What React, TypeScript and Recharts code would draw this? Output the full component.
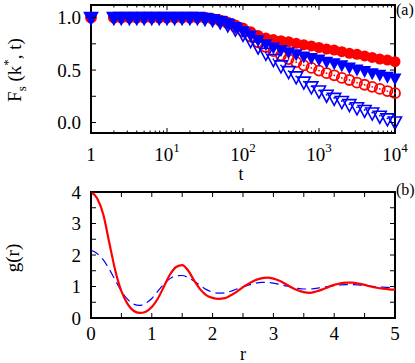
import React from 'react';
import {
  ScatterChart, Scatter, LineChart, Line, XAxis, YAxis, ReferenceArea,
} from 'recharts';

// ---- panel (a): F_s(k*, t) ----
const times = [
  1, 2, 2.5, 3.2, 4, 5, 6.3, 7.9, 10, 12.6, 15.8, 20, 25.1, 31.6, 39.8, 50.1, 63.1, 79.4,
  100, 126, 158, 200, 251, 316, 398, 501, 631, 794, 1000, 1259, 1585, 1995, 2512, 3162,
  3981, 5012, 6310, 7943, 10000,
];
const redFilled = [
  1, 1, 1, 1, 1, 1, 1, 1, 1, 1, 1, 1, 1, 0.995, 0.99, 0.975, 0.955, 0.93,
  0.9, 0.865, 0.83, 0.805, 0.79, 0.78, 0.77, 0.755, 0.74, 0.73, 0.715, 0.7, 0.69, 0.675, 0.66, 0.65,
  0.635, 0.62, 0.605, 0.595, 0.58,
];
const redOpen = [
  1, 1, 1, 1, 1, 1, 1, 1, 1, 1, 1, 1, 1, 1, 0.985, 0.97, 0.945, 0.91,
  0.87, 0.82, 0.765, 0.72, 0.68, 0.64, 0.605, 0.575, 0.545, 0.52, 0.495, 0.47, 0.45, 0.425, 0.405, 0.38,
  0.36, 0.34, 0.32, 0.3, 0.28,
];
const blueFilled = [
  1, 1, 1, 1, 1, 1, 1, 1, 1, 1, 1, 1, 1, 0.995, 0.985, 0.97, 0.945, 0.91,
  0.87, 0.83, 0.785, 0.745, 0.715, 0.69, 0.67, 0.65, 0.63, 0.615, 0.6, 0.58, 0.565, 0.545, 0.525, 0.505,
  0.49, 0.47, 0.455, 0.435, 0.42,
];
const blueOpen = [
  1, 1, 1, 1, 1, 1, 1, 1, 1, 1, 1, 1, 1, 0.99, 0.98, 0.96, 0.93, 0.89,
  0.84, 0.78, 0.72, 0.66, 0.6, 0.54, 0.485, 0.435, 0.385, 0.34, 0.3, 0.26, 0.23, 0.2, 0.17, 0.14,
  0.115, 0.09, 0.06, 0.035, 0.005,
];

// ---- panel (b): g(r) ----
const rValues = [
  0, 0.1, 0.2, 0.3, 0.4, 0.5, 0.6, 0.7, 0.8, 0.9, 1, 1.1, 1.2, 1.3, 1.4, 1.5, 1.6, 1.7, 1.8, 1.9,
  2, 2.1, 2.2, 2.3, 2.4, 2.5, 2.6, 2.7, 2.8, 2.9, 3, 3.1, 3.2, 3.3, 3.4, 3.5, 3.6, 3.7, 3.8, 3.9,
  4, 4.1, 4.2, 4.3, 4.4, 4.5, 4.6, 4.7, 4.8, 4.9, 5,
];
const gRed = [
  4.0, 3.8, 3.3, 2.4, 1.5, 0.85, 0.45, 0.23, 0.16, 0.2, 0.35, 0.62, 1.0, 1.38, 1.62, 1.68, 1.5, 1.18, 0.9, 0.72,
  0.64, 0.61, 0.63, 0.72, 0.84, 0.98, 1.1, 1.2, 1.26, 1.28, 1.25, 1.18, 1.08, 0.97, 0.88, 0.82, 0.8, 0.84, 0.9, 0.98,
  1.05, 1.1, 1.12, 1.12, 1.09, 1.05, 1.0, 0.96, 0.93, 0.91, 0.9,
];
const gBlue = [
  2.15, 2.05, 1.85, 1.55, 1.2, 0.85, 0.6, 0.44, 0.4, 0.47, 0.62, 0.85, 1.08, 1.25, 1.34, 1.35, 1.28, 1.17, 1.03, 0.9,
  0.82, 0.79, 0.8, 0.85, 0.92, 0.99, 1.05, 1.1, 1.13, 1.13, 1.11, 1.07, 1.02, 0.98, 0.94, 0.92, 0.92, 0.94, 0.97, 1.0,
  1.03, 1.05, 1.06, 1.06, 1.05, 1.03, 1.01, 0.99, 0.98, 0.97, 0.96,
];

const RED = '#ff0000';
const BLUE = '#0000ff';
const FONT = 'Liberation Serif, Times New Roman, serif';
const FS = 19;

const toPoints = (vals: number[]) => times.map((t, i) => ({ t, f: vals[i] }));

const logTicks: number[] = [];
for (let d = 1; d < 10000; d *= 10) for (let m = 1; m < 10; m++) logTicks.push(d * m);
logTicks.push(10000);

const gData = rValues.map((r, i) => ({ r, red: gRed[i], blue: gBlue[i] }));

// plot boxes
const A_W = 304, A_H = 128;
const B_W = 304, B_H = 126;

const FilledCircle = (p: any) => <circle cx={p.cx} cy={p.cy} r={5.5} fill={RED} />;
const OpenCircle = (p: any) => (
  <g>
    <circle cx={p.cx} cy={p.cy} r={5} fill="none" stroke={RED} strokeWidth={1.8} />
    <circle cx={p.cx} cy={p.cy} r={0.9} fill={RED} />
  </g>
);
const triPath = (cx: number, cy: number) =>
  `M${cx - 6.5},${cy - 5}L${cx + 6.5},${cy - 5}L${cx},${cy + 7}Z`;
const FilledTri = (p: any) => <path d={triPath(p.cx, p.cy)} fill={BLUE} />;
const OpenTri = (p: any) => (
  <g>
    <path d={triPath(p.cx, p.cy)} fill="none" stroke={BLUE} strokeWidth={1.6} strokeLinejoin="miter" />
    <circle cx={p.cx} cy={p.cy - 0.5} r={0.9} fill={BLUE} />
  </g>
);

const LogXTick = ({ x, y, payload }: any) => {
  const lg = Math.log10(payload.value);
  const k = Math.round(lg);
  const major = Math.abs(lg - k) < 1e-6;
  const len = major ? 5 : 2.5;
  return (
    <g>
      <line x1={x} y1={y} x2={x} y2={y - len} stroke="#000" />
      <line x1={x} y1={y - A_H} x2={x} y2={y - A_H + len} stroke="#000" />
      {major && (
        <text x={x} y={y + 28} textAnchor="middle" fontFamily={FONT} fontSize={FS} fill="#000">
          {k === 0 ? '1' : (
            <>
              10<tspan dy={-9} fontSize={13}>{k}</tspan>
            </>
          )}
        </text>
      )}
    </g>
  );
};

const FYTick = ({ x, y, payload }: any) => {
  const v = payload.value;
  const labeled = Math.abs(v * 2 - Math.round(v * 2)) < 1e-6;
  return (
    <g>
      <line x1={x} y1={y} x2={x + 5} y2={y} stroke="#000" />
      <line x1={x + A_W} y1={y} x2={x + A_W - 5} y2={y} stroke="#000" />
      {labeled && (
        <text x={x - 10} y={y} dy="0.35em" textAnchor="end" fontFamily={FONT} fontSize={FS} fill="#000">
          {v.toFixed(1)}
        </text>
      )}
    </g>
  );
};

const RXTick = ({ x, y, payload }: any) => {
  const v = payload.value;
  return (
    <g>
      <line x1={x} y1={y} x2={x} y2={y - 5} stroke="#000" />
      <line x1={x} y1={y - B_H} x2={x} y2={y - B_H + 5} stroke="#000" />
      {Number.isInteger(v) && (
        <text x={x} y={y + 22} textAnchor="middle" fontFamily={FONT} fontSize={FS} fill="#000">
          {v}
        </text>
      )}
    </g>
  );
};

const GYTick = ({ x, y, payload }: any) => {
  const v = payload.value;
  return (
    <g>
      <line x1={x} y1={y} x2={x + 5} y2={y} stroke="#000" />
      <line x1={x + B_W} y1={y} x2={x + B_W - 5} y2={y} stroke="#000" />
      {Number.isInteger(v) && (
        <text x={x - 10} y={y} dy="0.35em" textAnchor="end" fontFamily={FONT} fontSize={FS} fill="#000">
          {v}
        </text>
      )}
    </g>
  );
};

export default function App() {
  return (
    <div style={{ position: 'absolute', left: 0, top: 0, width: 415, height: 363, background: '#fff' }}>
      <div style={{ position: 'absolute', left: 0, top: 0 }}>
        <ScatterChart width={415} height={180} margin={{ top: 5, right: 20, bottom: 17, left: 31 }}>
          <XAxis
            type="number" dataKey="t" scale="log" domain={[1, 10000]} ticks={logTicks} interval={0}
            height={30} tickSize={0} tickMargin={0} axisLine={false} tick={<LogXTick />}
          />
          <YAxis
            type="number" dataKey="f" domain={[-0.1, 1.12]} ticks={[0, 0.25, 0.5, 0.75, 1]} interval={0}
            width={60} tickSize={0} tickMargin={0} axisLine={false} tick={<FYTick />}
          />
          <ReferenceArea x1={1} x2={10000} y1={-0.1} y2={1.12} fill="none" stroke="#000" strokeWidth={2} />
          <Scatter data={toPoints(redFilled)} shape={FilledCircle} isAnimationActive={false} />
          <Scatter data={toPoints(redOpen)} shape={OpenCircle} isAnimationActive={false} />
          <Scatter data={toPoints(blueFilled)} shape={FilledTri} isAnimationActive={false} />
          <Scatter data={toPoints(blueOpen)} shape={OpenTri} isAnimationActive={false} />
        </ScatterChart>
      </div>
      <div style={{ position: 'absolute', left: 0, top: 180 }}>
        <LineChart width={415} height={183} data={gData} margin={{ top: 12, right: 20, bottom: 15, left: 31 }}>
          <XAxis
            type="number" dataKey="r" domain={[0, 5]} ticks={[0, 0.5, 1, 1.5, 2, 2.5, 3, 3.5, 4, 4.5, 5]}
            interval={0} height={30} tickSize={0} tickMargin={0} axisLine={false} tick={<RXTick />}
          />
          <YAxis
            type="number" domain={[0, 4]} ticks={[0, 0.5, 1, 1.5, 2, 2.5, 3, 3.5, 4]} interval={0}
            width={60} tickSize={0} tickMargin={0} axisLine={false} tick={<GYTick />}
          />
          <ReferenceArea x1={0} x2={5} y1={0} y2={4} fill="none" stroke="#000" strokeWidth={2} />
          <Line dataKey="blue" type="monotone" stroke={BLUE} strokeWidth={1.2} strokeDasharray="9 5" dot={false} isAnimationActive={false} />
          <Line dataKey="red" type="monotone" stroke={RED} strokeWidth={2.2} dot={false} isAnimationActive={false} />
        </LineChart>
      </div>
      <svg width={415} height={363} style={{ position: 'absolute', left: 0, top: 0, pointerEvents: 'none' }}>
        <g fontFamily={FONT} fill="#000">
          <text transform="translate(21,70) rotate(-90)" textAnchor="middle" fontSize={FS}>
            F<tspan dy={5} fontSize={13}>s</tspan>
            <tspan dy={-5}> (k</tspan>
            <tspan dy={-9} fontSize={13}>*</tspan>
            <tspan dy={9}>, t)</tspan>
          </text>
          <text x={241} y={180} textAnchor="middle" fontSize={18}>t</text>
          <text x={396} y={15} fontSize={16}>(a)</text>
          <text transform="translate(19,258) rotate(-90)" textAnchor="middle" fontSize={FS}>g(r)</text>
          <text x={243} y={360} textAnchor="middle" fontSize={18}>r</text>
          <text x={396} y={195} fontSize={16}>(b)</text>
        </g>
      </svg>
    </div>
  );
}
